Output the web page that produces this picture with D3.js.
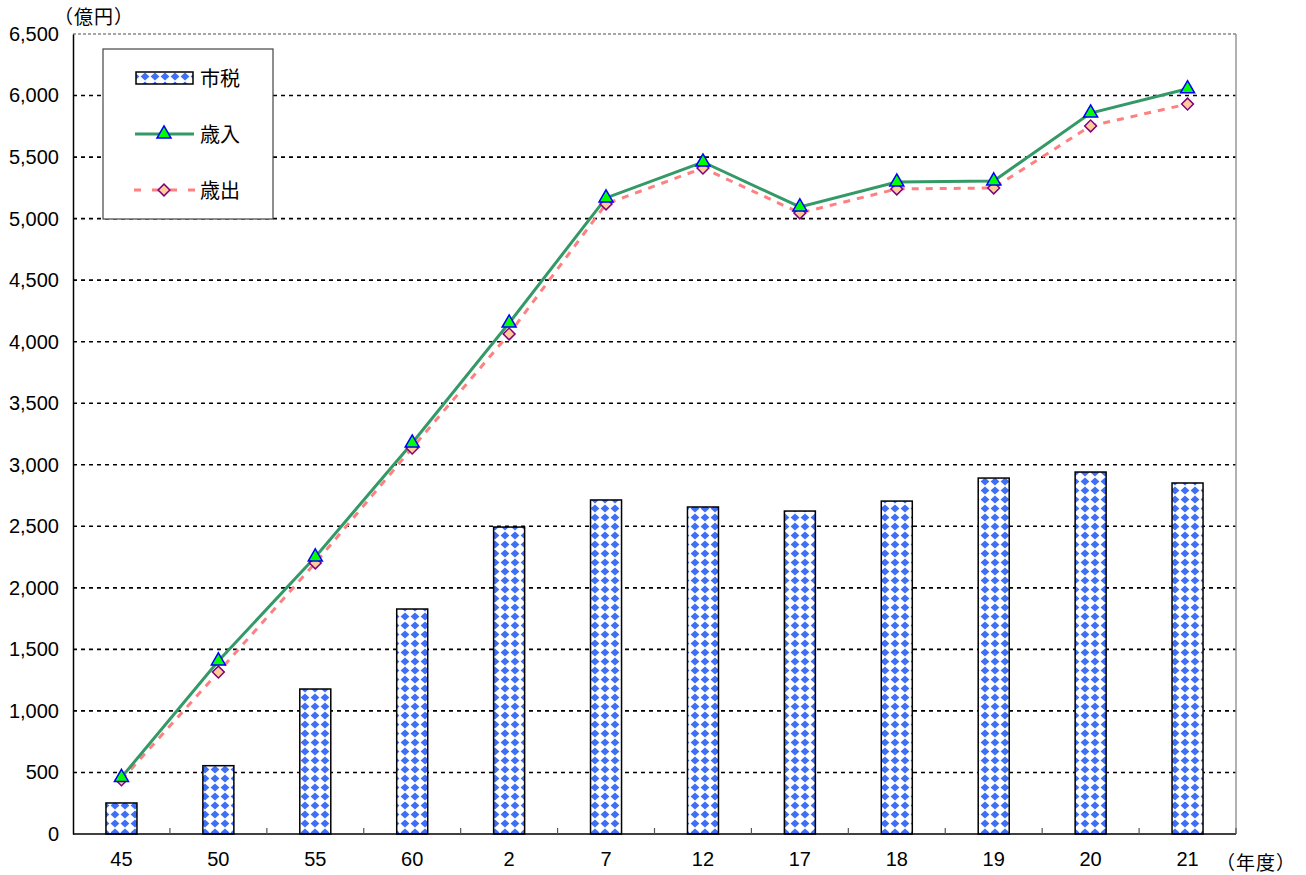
<!DOCTYPE html>
<html>
<head>
<meta charset="utf-8">
<script src="https://cdnjs.cloudflare.com/ajax/libs/d3/7.8.5/d3.min.js"></script>
<style>
  body { margin: 0; background: #fff; }
  text { font-family: "Liberation Sans", Arial, sans-serif; }
  .jp { font-family: "Noto Sans CJK JP", sans-serif; }
</style>
</head>
<body>
<svg id="chart" width="1306" height="875"></svg>
<script>
// data
var years = ["45", "50", "55", "60", "2", "7", "12", "17", "18", "19", "20", "21"];
var shizei = [252, 555, 1178, 1828, 2494, 2714, 2657, 2624, 2705, 2892, 2941, 2852];   // 市税
var sainyu = [460, 1406, 2251, 3177, 4152, 5168, 5460, 5095, 5297, 5306, 5858, 6055]; // 歳入
var saishutsu = [440, 1316, 2202, 3136, 4063, 5119, 5411, 5046, 5241, 5249, 5753, 5931]; // 歳出
var yTicks = [0, 500, 1000, 1500, 2000, 2500, 3000, 3500, 4000, 4500, 5000, 5500, 6000, 6500];

var svg = d3.select("#chart");
var pLeft = 73, pRight = 1236, pTop = 34, pBottom = 834;

var x = d3.scaleBand().domain(years).range([pLeft, pRight]);
var y = d3.scaleLinear().domain([0, 6500]).range([pBottom, pTop]);

// bar fill pattern
var defs = svg.append("defs");
var pat = defs.append("pattern")
    .attr("id", "dia")
    .attr("patternUnits", "userSpaceOnUse")
    .attr("width", 10).attr("height", 9);
pat.append("rect").attr("width", 10).attr("height", 9).attr("fill", "#fff");
pat.append("path").attr("d", "M5,0.6 L9.4,4.5 L5,8.4 L0.6,4.5 Z").attr("fill", "#3f6ff5");

// grid lines
svg.append("g")
    .selectAll("line")
    .data(yTicks.filter(d => d > 0 && d < 6500))
    .join("line")
    .attr("x1", pLeft).attr("x2", pRight)
    .attr("y1", d => y(d)).attr("y2", d => y(d))
    .attr("stroke", "#000").attr("stroke-width", 1.6)
    .attr("stroke-dasharray", "4,4");

// frame top + right (grey)
svg.append("line").attr("x1", pLeft).attr("x2", pRight).attr("y1", pTop).attr("y2", pTop)
    .attr("stroke", "#888").attr("stroke-width", 1.5).attr("stroke-dasharray", "3,2");
svg.append("line").attr("x1", pRight).attr("x2", pRight).attr("y1", pTop).attr("y2", pBottom)
    .attr("stroke", "#999").attr("stroke-width", 1.5);

// bars
var bw = 31;
svg.append("g")
    .selectAll("rect")
    .data(years)
    .join("rect")
    .attr("x", d => x(d) + x.bandwidth() / 2 - bw / 2)
    .attr("y", (d, i) => y(shizei[i]))
    .attr("width", bw)
    .attr("height", (d, i) => pBottom - y(shizei[i]))
    .attr("fill", "url(#dia)")
    .attr("stroke", "#000").attr("stroke-width", 1.5);

// y axis
var yAxis = d3.axisLeft(y).tickValues(yTicks).tickSize(0).tickPadding(14).tickFormat(d3.format(","));
var gy = svg.append("g").attr("transform", "translate(" + pLeft + ",0)").call(yAxis);
gy.select(".domain").attr("stroke", "#000").attr("stroke-width", 1.5);
gy.selectAll("text").attr("font-size", 20).attr("fill", "#000")
    .style("font-family", "'Liberation Sans', Arial, sans-serif");

// x axis
var xAxis = d3.axisBottom(x).tickSize(0).tickPadding(18);
var gx = svg.append("g").attr("transform", "translate(0," + pBottom + ")").call(xAxis);
gx.select(".domain").remove();
gx.selectAll("text").attr("font-size", 20).attr("fill", "#000")
    .style("font-family", "'Liberation Sans', Arial, sans-serif");
svg.append("line").attr("x1", pLeft).attr("x2", pRight).attr("y1", pBottom).attr("y2", pBottom)
    .attr("stroke", "#000").attr("stroke-width", 1.5);
// small tick marks between categories
svg.append("g").selectAll("line")
    .data(years.slice(1).concat(["end"]))
    .join("line")
    .attr("x1", d => d == "end" ? pRight : x(d)).attr("x2", d => d == "end" ? pRight : x(d))
    .attr("y1", pBottom - 6).attr("y2", pBottom)
    .attr("stroke", "#555").attr("stroke-width", 1.2);

// lines
var line = d3.line()
    .x((d, i) => x(years[i]) + x.bandwidth() / 2)
    .y(d => y(d));

svg.append("path").datum(saishutsu)
    .attr("d", line).attr("fill", "none")
    .attr("stroke", "#ff8080").attr("stroke-width", 3)
    .attr("stroke-dasharray", "7,7");

svg.append("path").datum(sainyu)
    .attr("d", line).attr("fill", "none")
    .attr("stroke", "#339966").attr("stroke-width", 3);

var tri = d3.symbol().type(d3.symbolTriangle).size(85);
var dia = d3.symbol().type(d3.symbolSquare).size(70);

svg.append("g").selectAll("path")
    .data(saishutsu)
    .join("path")
    .attr("d", dia)
    .attr("transform", (d, i) => "translate(" + (x(years[i]) + x.bandwidth() / 2) + "," + y(d) + ") rotate(45)")
    .attr("fill", "#ffcc99").attr("stroke", "#800080").attr("stroke-width", 1.5);

svg.append("g").selectAll("path")
    .data(sainyu)
    .join("path")
    .attr("d", tri)
    .attr("transform", (d, i) => "translate(" + (x(years[i]) + x.bandwidth() / 2) + "," + y(d) + ")")
    .attr("fill", "#00ff00").attr("stroke", "#0000ff").attr("stroke-width", 1.5);

// unit labels
svg.append("text").attr("class", "jp").attr("x", 54).attr("y", 24)
    .attr("font-size", 19).attr("letter-spacing", 1).text("（億円）");
svg.append("text").attr("class", "jp").attr("x", 1216).attr("y", 870)
    .attr("font-size", 19).attr("letter-spacing", 1).text("（年度）");

// legend
var lg = svg.append("g");
lg.append("rect").attr("x", 103).attr("y", 49).attr("width", 170).attr("height", 170)
    .attr("fill", "#fff").attr("stroke", "#444").attr("stroke-width", 1.2);
lg.append("rect").attr("x", 136).attr("y", 72).attr("width", 57).attr("height", 12)
    .attr("fill", "url(#dia)").attr("stroke", "#000").attr("stroke-width", 1.5);
lg.append("line").attr("x1", 135).attr("x2", 194).attr("y1", 134).attr("y2", 134)
    .attr("stroke", "#339966").attr("stroke-width", 3);
lg.append("path").attr("d", tri).attr("transform", "translate(164,134)")
    .attr("fill", "#00ff00").attr("stroke", "#0000ff").attr("stroke-width", 1.5);
lg.append("line").attr("x1", 134).attr("x2", 196).attr("y1", 190).attr("y2", 190)
    .attr("stroke", "#ff8080").attr("stroke-width", 3).attr("stroke-dasharray", "7,11");
lg.append("path").attr("d", dia).attr("transform", "translate(164,190) rotate(45)")
    .attr("fill", "#ffcc99").attr("stroke", "#800080").attr("stroke-width", 1.5);
var lbl = ["市税", "歳入", "歳出"];
lg.selectAll("text.lbl").data(lbl).join("text")
    .attr("class", "jp lbl")
    .attr("x", 200).attr("y", (d, i) => 86 + i * 56)
    .attr("font-size", 20).text(d => d);
</script>
</body>
</html>
